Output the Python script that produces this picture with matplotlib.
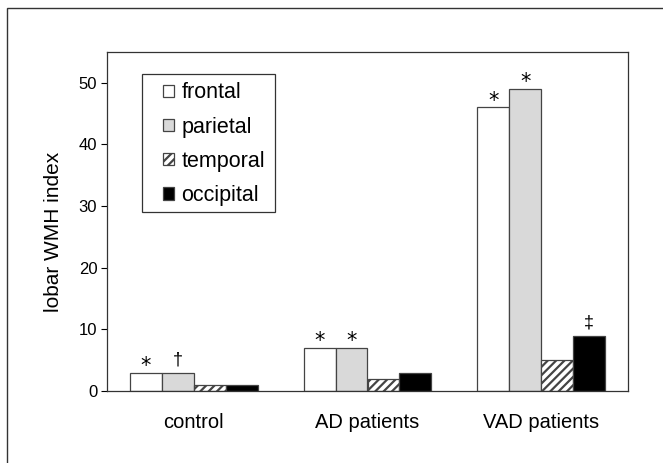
import matplotlib
matplotlib.use("Agg")
import matplotlib.pyplot as plt
import numpy as np
from matplotlib.patches import Rectangle

plt.rcParams['font.family'] = ['Liberation Sans', 'DejaVu Sans']
plt.rcParams['hatch.color'] = '#333333'
plt.rcParams['hatch.linewidth'] = 1.6

groups = ["control", "AD patients", "VAD patients"]
lobes = ["frontal", "parietal", "temporal", "occipital"]
frontal = [3, 7, 46]
parietal = [3, 7, 49]
temporal = [1, 2, 5]
occipital = [1, 3, 9]
marks_frontal = ["*", "*", "*"]
marks_parietal = ["†", "*", "*"]
marks_temporal = ["", "", ""]
marks_occipital = ["", "", "‡"]

series = [frontal, parietal, temporal, occipital]
marks = [marks_frontal, marks_parietal, marks_temporal, marks_occipital]
faces = ["white", "#d9d9d9", "white", "black"]
hatches = [None, None, "////", None]

W, H = 663, 463
fig = plt.figure(figsize=(W/100, H/100), dpi=100)
ax = fig.add_axes([107/W, 1-391/H, (628-107)/W, (391-52)/H])

x = np.arange(len(groups))
w = 0.184
for i, (vals, fc, h, mk) in enumerate(zip(series, faces, hatches, marks)):
    pos = x + (i - 1.5) * w
    ax.bar(pos, vals, width=w, color=fc, edgecolor="#444444", linewidth=0.9,
           hatch=h, label=lobes[i])
    for p, v, m in zip(pos, vals, mk):
        if m == "*":
            ax.annotate(m, xy=(p, v), xytext=(0, 0.5), textcoords="offset points",
                        ha="center", va="baseline", fontsize=15,
                        family=['DejaVu Sans'])
        elif m:
            ax.annotate(m, xy=(p, v), xytext=(0, 5.5), textcoords="offset points",
                        ha="center", va="baseline", fontsize=13)

ax.set_xlim(-0.5, 2.5)
ax.set_ylim(0, 55)
ax.set_yticks([0, 10, 20, 30, 40, 50])
ax.set_xticks(x)
ax.set_xticklabels(groups, fontsize=14.5)
ax.tick_params(axis='x', length=0, pad=16)
ax.tick_params(axis='y', labelsize=12, length=4, direction='out', width=0.8, pad=3)
ax.set_ylabel("lobar WMH index", fontsize=15)
ax.yaxis.set_label_coords((63-107)/521, (391-232)/339)
for s in ax.spines.values():
    s.set_linewidth(0.9)
    s.set_color("#333333")

leg = ax.legend(loc="upper left", bbox_to_anchor=(163/W, 1-82.5/H),
                bbox_transform=fig.transFigure,
                fontsize=15.5, frameon=False,
                handlelength=0.52, handleheight=0.52, handletextpad=0.33,
                labelspacing=0.61, borderpad=0, borderaxespad=0)
fig.add_artist(Rectangle((141.7/W, 1-212/H), (275-141.7)/W, (212-74)/H,
                         fill=False, edgecolor="#333333", linewidth=0.9,
                         transform=fig.transFigure))

fig.add_artist(Rectangle((7/W, -0.1), 1.2, 1.1 - 8/H, fill=False,
                         edgecolor="#333333", linewidth=1.0,
                         transform=fig.transFigure, clip_on=False))

fig.savefig("out.png", dpi=100)
